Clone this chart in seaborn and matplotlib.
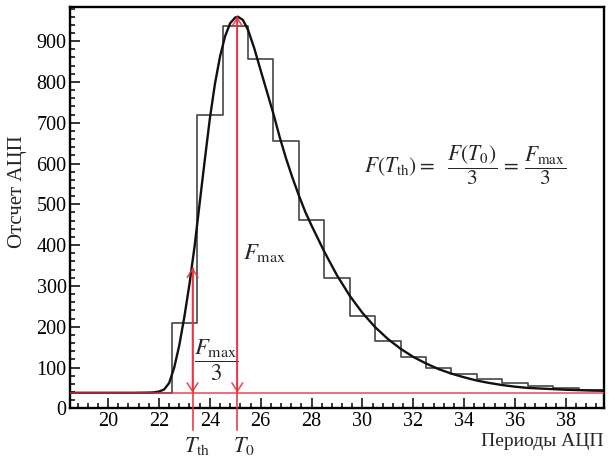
import numpy as np
import pandas as pd
import matplotlib
matplotlib.use("Agg")
import matplotlib.pyplot as plt
from matplotlib.ticker import MultipleLocator
import seaborn as sns

# histogram: ADC periods (bin centres) and counts
periods = [19, 20, 21, 22, 23, 24, 25, 26, 27, 28, 29, 30,
           31, 32, 33, 34, 35, 36, 37, 38, 39]
counts = [38, 38, 38, 38, 208, 719, 938, 856, 655, 461, 319, 226,
          165, 126, 100, 84, 71, 61, 55, 50, 45]

# fitted curve
fit_t = [18.5, 21.0, 21.6, 21.8, 22.0, 22.2, 22.4, 22.6, 22.8, 23.0, 23.2,
         23.4, 23.6, 23.8, 24.0, 24.2, 24.4, 24.6, 24.8, 25.0, 25.1, 25.3,
         25.5, 25.75, 26.0, 26.25, 26.5, 26.75, 27.0, 27.25, 27.5, 27.75,
         28.0, 28.5, 29.0, 29.5, 30.0, 30.5, 31.0, 31.5, 32.0, 32.5, 33.0,
         33.5, 34.0, 34.5, 35.0, 35.5, 36.0, 36.5, 37.0, 37.5, 38.0, 38.5,
         39.0, 39.5]
fit_f = [38, 38, 38.5, 39, 41, 46, 62, 100, 155, 225, 305,
         397, 503, 608, 710, 795, 862, 912, 944, 958, 960, 952,
         928, 882, 828, 775, 722, 664, 612, 565, 522, 482,
         448, 384, 326, 276, 234, 199, 170, 146, 126, 110, 96,
         85, 76, 68, 62, 57, 53, 50, 48.5, 47, 45.5, 44.5,
         43.5, 43]

pedestal = 38
t_th, f_th = 23.32, 345
t_0, f_max = 25.08, 960

x_ticks = [20, 22, 24, 26, 28, 30, 32, 34, 36, 38]
y_ticks = [0, 100, 200, 300, 400, 500, 600, 700, 800, 900]

sns.set_theme(style="ticks")
plt.rcParams["font.family"] = ["Liberation Serif", "DejaVu Serif"]
plt.rcParams["mathtext.fontset"] = "stix"

fig = plt.figure(figsize=(6.16, 4.61), dpi=100)
ax = fig.add_axes([0.1136, 0.1143, 0.8669, 0.8699])

hist_df = pd.DataFrame({"period": periods, "count": counts})
edges = [p - 0.5 for p in periods] + [periods[-1] + 0.5]
sns.histplot(data=hist_df, x="period", weights="count", bins=edges,
             element="step", fill=False, color="#454545", linewidth=1.2,
             ax=ax)
sns.lineplot(x=fit_t, y=fit_f, color="#111111", linewidth=1.7, ax=ax)

red = "#e8303c"
ax.axhline(pedestal, color=red, lw=1.4, alpha=0.7, zorder=5)

for tx, top in [(t_th, f_th), (t_0, f_max)]:
    ax.plot([tx, tx], [-53, top], color=red, lw=1.4, alpha=0.8,
            clip_on=False, zorder=5)
    ax.annotate("", xy=(tx, top), xytext=(tx, pedestal),
                arrowprops=dict(arrowstyle="<->,head_length=0.5,head_width=0.32",
                                color=red, lw=1.2, alpha=0.85,
                                shrinkA=0, shrinkB=0),
                zorder=6)

ax.set_xlim(18.5, 39.5)
ax.set_ylim(0, 983)
ax.set_xticks(x_ticks)
ax.set_yticks(y_ticks)
ax.xaxis.set_minor_locator(MultipleLocator(0.4))
ax.yaxis.set_minor_locator(MultipleLocator(20))
ax.tick_params(which="both", direction="in", top=False, right=False,
               colors="black", width=1.1, labelsize=14.5, pad=2.5)
ax.tick_params(which="major", length=7.5)
ax.tick_params(which="minor", length=3.8)
for s in ax.spines.values():
    s.set_visible(True)
    s.set_linewidth(1.7)
    s.set_color("black")

ax.set_ylabel("Отсчет АЦП", fontsize=15)
ax.yaxis.set_label_coords(-0.08, 0.54)
ax.set_xlabel("Периоды АЦП", fontsize=14, ha="right")
ax.xaxis.set_label_coords(1.0, -0.062)

xt = ax.get_xaxis_transform()
ax.text(t_th + 0.2, -0.094, r"$T_{\rm th}$", transform=xt, ha="center",
        va="center", fontsize=16)
ax.text(t_0 + 0.25, -0.094, r"$T_0$", transform=xt, ha="center",
        va="center", fontsize=16)

ax.text(25.3, 381, r"$F_{\rm max}$", ha="left", va="center", fontsize=16.5)
ax.text(24.24, 118, r"$\dfrac{F_{\rm max}}{3}$", ha="center", va="center",
        fontsize=16.5)
ax.text(34.03, 596,
        r"$F(T_{\rm th}) =\ \ \dfrac{F(T_0)}{3} \,=\, \dfrac{F_{\rm max}}{3}$",
        ha="center", va="center", fontsize=15.5)

fig.savefig("out.png", dpi=100)
